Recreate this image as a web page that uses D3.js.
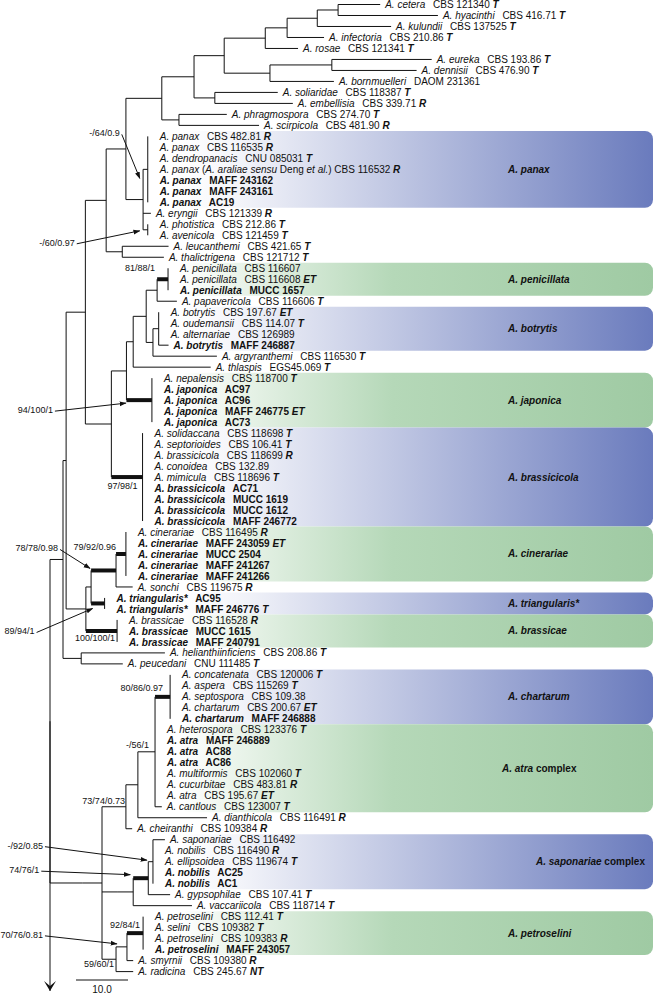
<!DOCTYPE html>
<html><head><meta charset="utf-8">
<script src="https://cdn.jsdelivr.net/npm/d3@7"></script>
<style>
body{margin:0;background:#fff;}
svg{display:block;font-family:"Liberation Sans",Arial,sans-serif;}
</style></head><body>
<svg id="chart" width="656" height="995"></svg>
<script>
// ---------- DATA ----------
// Topology + branch lengths (scale bar = 10.0). Leaves t1..t89 top to bottom.
const treeNewick =
"((((((((((((((t1:8.1,t2:19.2)N370:4.0,t3:14.2)N349:5.8,t4:7.1)N319:4.2,t5:6.3)N297:7.9," +
"((t6:19.2,t7:16.3)N364:11.9,t8:12.3)N302:8.8)N256:5.8,(t9:12.1,t10:15.0)N247:4.0)N226:6.2," +
"(t11:9.2,t12:15.4)NPS:3.3)N194:6.9," +
"((t13:0,t14:0,t15:0,t16:0,t17:0,t18:0,t19:0)panaxG:0.9,t20:1.5,(t21:0,t22:0)photAven:0.9)NP:3.3)N158:3.8," +
"(t23:8.9,t24:8.0)NLT:3.1)N138:4.0," +
"((((((t25:0,t26:0,t27:0)penG:2.1,t28:3.8)NPP:2.1,((t29:0,t30:0,t31:0,t32:1.9)botG:1.1,t33:12.3)NBA:1.3)NC:2.5,t34:14.9)NT:1.3," +
"(t35:0,t36:0,t37:0,t38:0,t39:0)japG:4.9)NJ:2.9," +
"(t40:0,t41:0,t42:0,t43:0,t44:0,t45:0,t46:0,t47:0,t48:0)brassG:6.0)NJB:5.0)N117:3.7," +
"((((t49:0,t50:0,t51:0,t52:0,t53:0)cinG:1.9,t54:3.2)N148c:4.8,(t55:0,t56:0)triG:2.6)N123:1.0," +
"(t57:0,t58:0,t59:0)brasG:6.0)N118:3.8)N98:0.6," +
"(t60:16.1,t61:8.0)N113:3.5)N95:2.5," +
"((((((t62:0,t63:0,t64:0,t65:0,t66:0)chartG:2.9,t67:0,t68:0,t69:0,t70:0,t71:0,t72:0,t73:0,t74:1.3)N170:3.3,t75:13.3)N153a:2.3,t76:1.2)N143s:4.6," +
"((((t77:2.3,t78:0,t79:0,t80:0,t81:0)sapG:0.9,t82:4.2)N148s:2.9,t83:11.3)N133:3.1)N117s:2.9," +
"(((t84:0,t85:0,t86:0,t87:0)petG:3.1,t88:1.2)N127:2.1,t89:3.3)N116p:2.7)N102:3.8)N82:6.2)root;";

const leafSpecies = ["A. cetera","A. hyacinthi","A. kulundii","A. infectoria","A. rosae","A. eureka","A. dennisii","A. bornmuelleri","A. soliaridae","A. embellisia",
"A. phragmospora","A. scirpicola","A. panax","A. panax","A. dendropanacis","A. panax","A. panax","A. panax","A. panax","A. eryngii",
"A. photistica","A. avenicola","A. leucanthemi","A. thalictrigena","A. penicillata","A. penicillata","A. penicillata","A. papavericola","A. botrytis","A. oudemansii",
"A. alternariae","A. botrytis","A. argyranthemi","A. thlaspis","A. nepalensis","A. japonica","A. japonica","A. japonica","A. japonica","A. solidaccana",
"A. septorioides","A. brassicicola","A. conoidea","A. mimicula","A. brassicicola","A. brassicicola","A. brassicicola","A. brassicicola","A. cinerariae","A. cinerariae",
"A. cinerariae","A. cinerariae","A. cinerariae","A. sonchi","A. triangularis*","A. triangularis*","A. brassicae","A. brassicae","A. brassicae","A. helianthiinficiens",
"A. peucedani","A. concatenata","A. aspera","A. septospora","A. chartarum","A. chartarum","A. heterospora","A. atra","A. atra","A. atra",
"A. multiformis","A. cucurbitae","A. atra","A. cantlous","A. dianthicola","A. cheiranthi","A. saponariae","A. nobilis","A. ellipsoidea","A. nobilis",
"A. nobilis","A. gypsophilae","A. vaccariicola","A. petroselini","A. selini","A. petroselini","A. petroselini","A. smyrnii","A. radicina"];

const leafStrain = ["CBS 121340","CBS 416.71","CBS 137525","CBS 210.86","CBS 121341","CBS 193.86","CBS 476.90","DAOM 231361","CBS 118387","CBS 339.71",
"CBS 274.70","CBS 481.90","CBS 482.81","CBS 116535","CNU 085031","CBS 116532","MAFF 243162","MAFF 243161","AC19","CBS 121339",
"CBS 212.86","CBS 121459","CBS 421.65","CBS 121712","CBS 116607","CBS 116608","MUCC 1657","CBS 116606","CBS 197.67","CBS 114.07",
"CBS 126989","MAFF 246887","CBS 116530","EGS45.069","CBS 118700","AC97","AC96","MAFF 246775","AC73","CBS 118698",
"CBS 106.41","CBS 118699","CBS 132.89","CBS 118696","AC71","MUCC 1619","MUCC 1612","MAFF 246772","CBS 116495","MAFF 243059",
"MUCC 2504","MAFF 241267","MAFF 241266","CBS 119675","AC95","MAFF 246776","CBS 116528","MUCC 1615","MAFF 240791","CBS 208.86",
"CNU 111485","CBS 120006","CBS 115269","CBS 109.38","CBS 200.67","MAFF 246888","CBS 123376","MAFF 246889","AC88","AC86",
"CBS 102060","CBS 483.81","CBS 195.67","CBS 123007","CBS 116491","CBS 109384","CBS 116492","CBS 116490","CBS 119674","AC25",
"AC1","CBS 107.41","CBS 118714","CBS 112.41","CBS 109382","CBS 109383","MAFF 243057","CBS 109380","CBS 245.67"];

const leafCode = ["T","T","T","T","T","T","T","","T","R",
"T","R","R","R","T","R","","","","R",
"T","T","T","T","","ET","","T","ET","T",
"","","T","T","T","","","ET","","T",
"T","R","","T","","","","","R","ET",
"","","","R","","T","R","","","T",
"T","T","T","","ET","","T","","","",
"T","R","ET","T","R","R","","R","T","",
"","T","T","T","T","R","","R","NT"];

// strains sequenced in this study (printed in bold)
const leafNew = [0,0,0,0,0,0,0,0,0,0, 0,0,0,0,0,0,1,1,1,0, 0,0,0,0,0,0,1,0,0,0,
0,1,0,0,0,1,1,1,1,0, 0,0,0,0,1,1,1,1,0,1, 1,1,1,0,1,1,0,1,1,0,
0,0,0,0,0,1,0,1,1,1, 0,0,0,0,0,0,0,0,0,1, 1,0,0,0,0,0,1,0,0];

// leaf 16 carries a note: A. panax (A. araliae sensu Deng et al.)
const leafNoteIndex = [16];
const leafNoteParts = [["(",0],["A. araliae sensu",1],[" Deng ",0],["et al.",1],[")",0]];

const cladeNames  = ["A. panax","A. penicillata","A. botrytis","A. japonica","A. brassicicola","A. cinerariae","A. triangularis*","A. brassicae","A. chartarum","A. atra","A. saponariae","A. petroselini"];
const cladeSuffix = ["","","","","","","","",""," complex"," complex",""];
const cladeFirst  = [13,25,29,35,40,49,55,57,62,67,77,84];
const cladeLast   = [19,27,32,39,48,53,56,59,66,74,81,87];
const cladeTone   = ["blue","green","blue","green","blue","green","blue","green","blue","green","blue","green"];

// node support (MP bootstrap / ML bootstrap / posterior probability)
const supportNode = ["panaxG","photAven","penG","japG","brassG","N148c","cinG","triG","brasG","chartG","N170","N143s","sapG","N148s","petG","N127","N116p"];
const supportMP   = ["-","-","81","94","97","78","79","89","100","80","-","73","-","74","92","70","59"];
const supportML   = ["64","60","88","100","98","78","92","94","100","86","56","74","92","76","84","76","60"];
const supportPP   = ["0.9","0.97","1","1","1","0.98","0.96","1","1","0.97","1","0.73","0.85","1","1","0.81","1"];

const scaleBarValue = 10.0;

// ---------- LAYOUT (styling, not data) ----------
const W = 656, H = 995;
const pxPerUnit = 5.2, rootX = 50;
const gapTip = 5, gapNode = 12;   // label offset for leaves with / without a drawn branch
const strainGap = 5;              // extra space between species and strain
const boxLeft = 180, boxRight = 653;
const cladeLabelX = [508,508,508,508,508,508,508,508,508,502,536,508];
const supportLayout = {
  panaxG:  {dx:-28, dy:-33, tip:[-8, 9]},
  photAven:{dx:-73, dy:16,  tip:[-8, 1]},
  penG:    {ref:"p", dx:-2, dy:-8},
  japG:    {dx:-99, dy:13, tip:[-26, 3]},
  brassG:  {dx:-5, dy:12},
  N148c:   {dx:-58, dy:-19, tip:[-26,-2]},
  cinG:    {ref:"p", dx:0, dy:-4},
  triG:    {dx:-70, dy:31, tip:[-12, 5]},
  brasG:   {dx:-2, dy:10},
  chartG:  {dx:-7, dy:-6},
  N170:    {dx:-6, dy:-4},
  N143s:   {dx:-1, dy:-3},
  sapG:    {dx:-110, dy:-13, tip:[-6,-1.5]},
  N148s:   {dx:-109, dy:-5, tip:[-18,-3.5]},
  petG:    {dx:-3, dy:-5},
  N127:    {dx:-84, dy:-9, tip:[-10,-3]},
  N116p:   {dx:-2, dy:8}
};

// ---------- PARSE ----------
function parseNewick(s){
  let i=0;
  function node(){
    const n={};
    if(s[i]==="("){
      i++; n.children=[node()];
      while(s[i]===","){i++; n.children.push(node());}
      i++;
    }
    let name=""; while(i<s.length && !",():;".includes(s[i])) name+=s[i++];
    n.name=name;
    n.length=0;
    if(s[i]===":"){i++; let num=""; while(i<s.length && !",();".includes(s[i])) num+=s[i++]; n.length=+num;}
    return n;
  }
  return node();
}
const root = d3.hierarchy(parseNewick(treeNewick));
root.eachBefore(d=>{ d.dist = (d.parent? d.parent.dist:0) + d.data.length; });
const maxDist = d3.max(root.leaves(), d=>d.dist);
const x = d3.scaleLinear().domain([0, maxDist]).range([rootX, rootX + maxDist*pxPerUnit]);
const y = d3.scaleLinear().domain([1, 89]).range([4.5, 971.6]);
root.leaves().forEach(d=>{ d.idx = +d.data.name.slice(1); d.py = y(d.idx); });
root.eachAfter(d=>{ if(d.children){ d.py = (d.children[0].py + d.children[d.children.length-1].py)/2; } });
root.each(d=>{ d.px = x(d.dist); });
const byName = {}; root.each(d=>{ if(d.data.name) byName[d.data.name]=d; });

const svg = d3.select("#chart");
const defs = svg.append("defs");
const grads = {
  blue: [[0,"#ffffff"],[0.12,"#f4f5fa"],[1,"#6a7bbd"]],
  green:[[0,"#ffffff"],[0.1,"#eef6ee"],[0.45,"#b5d8b8"],[1,"#9fcaa3"]]
};
Object.entries(grads).forEach(([k,stops])=>{
  const g = defs.append("linearGradient").attr("id","g-"+k).attr("x1",0).attr("x2",1).attr("y1",0).attr("y2",0);
  stops.forEach(s=>g.append("stop").attr("offset",s[0]).attr("stop-color",s[1]));
});
const ah = defs.append("marker").attr("id","ah").attr("viewBox","0 0 10 10").attr("refX",9).attr("refY",5)
  .attr("markerWidth",7).attr("markerHeight",7).attr("orient","auto-start-reverse").attr("markerUnits","userSpaceOnUse");
ah.append("path").attr("d","M0,1.5 L10,5 L0,8.5 Z").attr("fill","#111");

// ---------- CLADE BOXES ----------
const rowH = y(2)-y(1);
const gBox = svg.append("g");
cladeNames.forEach((n,i)=>{
  const y0 = y(cladeFirst[i]) - rowH/2, y1 = y(cladeLast[i]) + rowH/2;
  gBox.append("rect").attr("x",boxLeft).attr("y",y0).attr("width",boxRight-boxLeft).attr("height",y1-y0)
    .attr("rx",8).attr("fill","url(#g-"+cladeTone[i]+")");
  const t = gBox.append("text").attr("x",cladeLabelX[i]).attr("y",(y0+y1)/2+3.5)
    .attr("font-size",10).attr("font-weight","bold").attr("fill","#111");
  t.append("tspan").attr("font-style","italic").text(n);
  if(cladeSuffix[i]) t.append("tspan").text(cladeSuffix[i]);
});

// ---------- TREE ----------
const thick = new Set();
supportNode.forEach((n,i)=>{
  const mp=+supportMP[i], ml=+supportML[i], pp=+supportPP[i];
  if(mp>=70 && ml>=70 && pp>=0.95) thick.add(n);
});
const gTree = svg.append("g").attr("stroke","#111").attr("fill","none");
root.descendants().forEach(d=>{
  if(d.parent && d.data.length>0){
    gTree.append("line").attr("x1",d.parent.px).attr("x2",d.px).attr("y1",d.py).attr("y2",d.py)
      .attr("stroke-width", thick.has(d.data.name)?4:1);
  }
  if(d.children){
    gTree.append("line").attr("x1",d.px).attr("x2",d.px)
      .attr("y1",d.children[0].py).attr("y2",d.children[d.children.length-1].py).attr("stroke-width",1);
  }
});
// root stem leading down to the (off-figure) outgroup
const n82 = root.children[0];
gTree.append("line").attr("x1",root.px).attr("x2",root.px).attr("y1",n82.py).attr("y2",H-4).attr("stroke-width",1);
svg.append("path").attr("d",`M${root.px-6},${H-14} L${root.px},${H-4} L${root.px+6},${H-14} L${root.px},${H-9} Z`).attr("fill","#111");

// ---------- LEAF LABELS ----------
const gLab = svg.append("g").attr("font-size",10).attr("fill","#111");
root.leaves().forEach(d=>{
  const i = d.idx-1, bold = leafNew[i]===1;
  const t = gLab.append("text").attr("x", d.px + (d.data.length>0?gapTip:gapNode)).attr("y", d.py + 3.6)
    .attr("font-weight", bold?"bold":"normal");
  t.append("tspan").attr("font-style","italic").text(leafSpecies[i]);
  const ni = leafNoteIndex.indexOf(d.idx);
  if(ni>=0){
    t.append("tspan").text(" ");
    leafNoteParts.forEach(p=>t.append("tspan").attr("font-style",p[1]?"italic":"normal").text(p[0]));
    t.append("tspan").text(" "+leafStrain[i]);
  } else {
    t.append("tspan").attr("dx",strainGap).text(" "+leafStrain[i]);
  }
  if(leafCode[i]) t.append("tspan").attr("font-style","italic").attr("font-weight","bold").text(" "+leafCode[i]);
});

// ---------- SUPPORT VALUES ----------
const gSup = svg.append("g").attr("font-size",9).attr("fill","#111");
supportNode.forEach((n,i)=>{
  const d = byName[n], L = supportLayout[n];
  const txt = supportMP[i]+"/"+supportML[i]+"/"+supportPP[i];
  const ax = (L.ref==="p"? d.parent.px : d.px) + L.dx, ay = d.py + L.dy;
  gSup.append("text").attr("x",ax).attr("y",ay).attr("text-anchor","end").text(txt);
  if(L.tip){
    gSup.append("line").attr("x1",ax+2).attr("y1",ay-2).attr("x2",d.px+L.tip[0]).attr("y2",d.py+L.tip[1])
      .attr("stroke","#111").attr("stroke-width",1).attr("marker-end","url(#ah)");
  }
});

// ---------- SCALE BAR ----------
const sb0 = x(5), sb1 = x(5+scaleBarValue);
svg.append("line").attr("x1",sb0).attr("x2",sb1).attr("y1",980).attr("y2",980).attr("stroke","#111");
svg.append("text").attr("x",(sb0+sb1)/2).attr("y",993).attr("text-anchor","middle").attr("font-size",10).attr("fill","#111")
  .text(scaleBarValue.toFixed(1));
</script>
</body></html>
